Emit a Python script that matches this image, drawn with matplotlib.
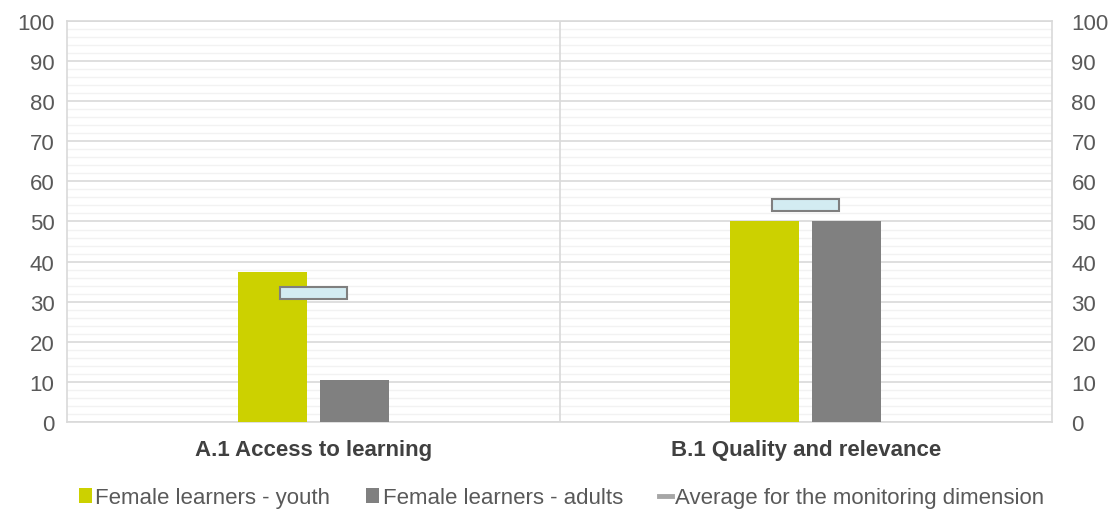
import matplotlib
matplotlib.use("Agg")
import matplotlib.pyplot as plt
import numpy as np
from matplotlib.patches import Patch
from matplotlib.lines import Line2D

plt.rcParams['font.family'] = ['Liberation Sans', 'DejaVu Sans']

categories = ["A.1 Access to learning", "B.1 Quality and relevance"]
youth = [37.5, 50.0]
adults = [10.5, 50.0]
average = [32.2, 54.2]
yticks = [0, 10, 20, 30, 40, 50, 60, 70, 80, 90, 100]

c_youth = "#CCD100"
c_adult = "#808080"
c_avg = "#D3ECF2"
c_avg_edge = "#7F7F7F"
c_text = "#595959"
c_grid = "#D9D9D9"

fig = plt.figure(figsize=(11.12, 5.10), dpi=100)
ax = fig.add_axes([0.0603, 0.1706, 0.8857, 0.7863])

x = np.arange(len(categories))
bw = 0.14
off = 0.083
ax.bar(x - off, youth, width=bw, color=c_youth, zorder=3)
ax.bar(x + off, adults, width=bw, color=c_adult, zorder=3)
mh = 3.0
ax.bar(x, [mh] * len(average), width=0.135, bottom=[a - mh / 2 for a in average],
       color=c_avg, edgecolor=c_avg_edge, linewidth=1.5, zorder=4)

ax.set_xlim(-0.5, len(categories) - 0.5)
ax.set_ylim(0, 100)
ax.set_yticks(yticks)
ax.set_yticks(np.arange(0, 101, 2), minor=True)
ax.yaxis.grid(True, which='major', color=c_grid, linewidth=1.2, zorder=0)
ax.yaxis.grid(True, which='minor', color="#F2F2F2", linewidth=1.0, zorder=0)
ax.set_axisbelow(True)
ax.tick_params(axis='y', which='both', length=0, labelsize=16, labelcolor=c_text, pad=9)
ax.set_xticks(x)
ax.set_xticklabels(categories, fontsize=16, fontweight='bold', color="#404040")
ax.tick_params(axis='x', length=0, pad=12)
for s in ax.spines.values():
    s.set_color(c_grid)
    s.set_linewidth(1.2)
ax.axvline(0.5, color=c_grid, linewidth=1.2, zorder=1)

ax2 = ax.twinx()
ax2.set_ylim(0, 100)
ax2.set_yticks(yticks)
ax2.tick_params(axis='y', length=0, labelsize=16, labelcolor=c_text, pad=14)
for s in ax2.spines.values():
    s.set_visible(False)

handles = [
    Patch(facecolor=c_youth, edgecolor='none'),
    Patch(facecolor=c_adult, edgecolor='none'),
    Line2D([0], [0], color="#A6A6A6", linewidth=3.5),
]
labels = ["Female learners - youth", "Female learners - adults", "Average for the monitoring dimension"]
leg = fig.legend(handles, labels, loc='lower center', bbox_to_anchor=(0.505, -0.038), ncol=3,
                 frameon=False, fontsize=16, handlelength=0.6, handleheight=0.6,
                 handletextpad=0.15, columnspacing=1.6)
for t in leg.get_texts():
    t.set_color(c_text)

fig.savefig("out.png", dpi=100)
